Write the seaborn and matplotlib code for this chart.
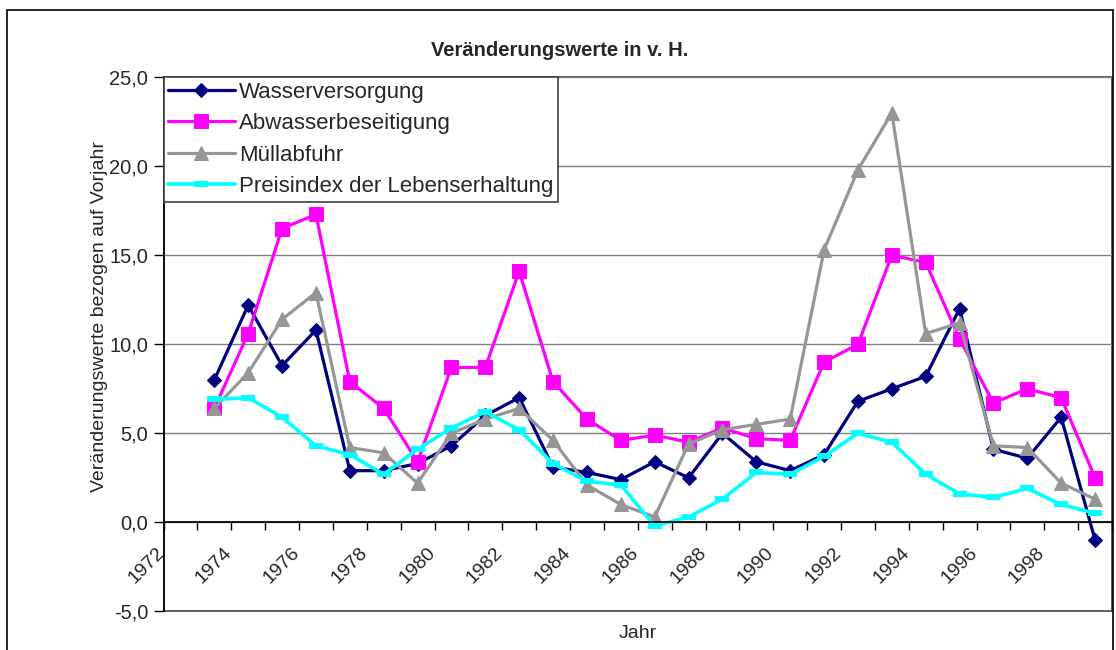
import numpy as np
import pandas as pd
import seaborn as sns
import matplotlib.pyplot as plt
from matplotlib.patches import Rectangle
from matplotlib.ticker import FuncFormatter
from matplotlib.transforms import ScaledTranslation

# data (change vs. previous year, %)
years = list(range(1973, 2000))
wasser = [8.0, 12.2, 8.8, 10.8, 2.9, 2.9, 3.3, 4.3, 6.0, 7.0, 3.1, 2.8, 2.4, 3.4,
          2.5, 5.0, 3.4, 2.9, 3.8, 6.8, 7.5, 8.2, 12.0, 4.1, 3.6, 5.9, -1.0]
abwasser = [6.4, 10.6, 16.5, 17.3, 7.9, 6.4, 3.4, 8.7, 8.7, 14.1, 7.9, 5.8, 4.6, 4.9,
            4.5, 5.3, 4.7, 4.6, 9.0, 10.0, 15.0, 14.6, 10.3, 6.7, 7.5, 7.0, 2.5]
muell = [6.4, 8.4, 11.4, 12.9, 4.2, 3.9, 2.2, 5.0, 5.8, 6.4, 4.6, 2.1, 1.0, 0.3,
         4.4, 5.2, 5.5, 5.8, 15.3, 19.8, 23.0, 10.6, 11.2, 4.3, 4.2, 2.2, 1.3]
preis = [6.9, 7.0, 5.9, 4.3, 3.8, 2.7, 4.1, 5.3, 6.2, 5.2, 3.3, 2.3, 2.1, -0.2,
         0.3, 1.3, 2.8, 2.7, 3.7, 5.0, 4.5, 2.7, 1.6, 1.4, 1.9, 1.0, 0.5]

names = ["Wasserversorgung", "Abwasserbeseitigung", "Müllabfuhr",
         "Preisindex der Lebenserhaltung"]
colors = ["#000080", "#FF00FF", "#969696", "#00FFFF"]

df = pd.DataFrame({"Jahr": years, names[0]: wasser, names[1]: abwasser,
                   names[2]: muell, names[3]: preis})

sns.set_theme(style="white")
plt.rcParams["font.family"] = ["Liberation Sans", "DejaVu Sans"]

fig = plt.figure(figsize=(11.16, 6.5), dpi=100)
ax = fig.add_axes([163.5 / 1116, 1 - 611.3 / 650, (1112 - 163.5) / 1116, (611.3 - 77.3) / 650])

styles = [dict(marker="D", markersize=7, lw=2.3),
          dict(marker="s", markersize=9.5, lw=2.3),
          dict(marker="^", markersize=10, lw=2.3),
          dict(marker="_", markersize=9.5, mew=4.3, lw=2.6)]
for name, col, st in zip(names, colors, styles):
    sns.lineplot(data=df, x="Jahr", y=name, color=col, label=name, ax=ax,
                 markeredgecolor=col, **st)

ax.set_xlim(1971.5, 1999.5)
ax.set_ylim(-5, 25)
ax.set_yticks(np.arange(-5, 26, 5))
ax.yaxis.set_major_formatter(FuncFormatter(lambda v, p: f"{v:.1f}".replace(".", ",")))
ax.yaxis.grid(True, color="#808080", lw=1)
ax.set_axisbelow(True)

ax.tick_params(axis="x", direction="out", length=6, width=1, color="black",
               labelsize=14, pad=10, bottom=True, labelrotation=45)
ax.tick_params(axis="y", direction="out", length=7, width=1, color="black",
               labelsize=14.5, pad=4, left=True)

# ticks on the category boundaries, a year label on every second one
bounds = np.arange(1971.5, 2000, 1)
xlabels = [str(int(b + 0.5)) if i % 2 == 0 and b < 1999 else "" for i, b in enumerate(bounds)]
ax.set_xticks(bounds)
ax.set_xticklabels(xlabels)

ax.spines["bottom"].set_position(("data", 0))
ax.spines["bottom"].set_color("black")
ax.spines["left"].set_color("black")
ax.spines["left"].set_linewidth(1.2)
ax.spines["top"].set_visible(False)
ax.spines["right"].set_visible(False)
ax.add_patch(Rectangle((0, 0), 1, 1, transform=ax.transAxes, fill=False,
                       edgecolor="#404040", lw=1.2, clip_on=False, zorder=0.5))
ax.set_xlabel("")
ax.set_ylabel("")

leg = ax.legend(loc="upper left", bbox_to_anchor=(0, 1), borderaxespad=0,
                frameon=True, fancybox=False, framealpha=1, edgecolor="#404040",
                fontsize=16, handlelength=3.0, handletextpad=0.2, labelspacing=0.47,
                borderpad=0.2)
leg.get_frame().set_linewidth(1.2)

fig.text(560 / 1116, 1 - 51 / 650, "Veränderungswerte in v. H.", ha="center", va="center",
         fontsize=14.5, fontweight="bold")
fig.text(100 / 1116, 1 - 316 / 650, "Veränderungswerte bezogen auf Vorjahr", ha="center",
         va="center", rotation=90, fontsize=14)
fig.text(638 / 1116, 1 - 633 / 650, "Jahr", ha="center", va="center", fontsize=14)

fig.add_artist(Rectangle((7 / 1116, -0.05), (1113 - 7) / 1116, 1.05 - 10 / 650,
                         transform=fig.transFigure, fill=False, edgecolor="black", lw=1.2))

# tick label objects exist only after a draw; right-align them then
fig.canvas.draw()
shift = ScaledTranslation(4 / 100, 0, fig.dpi_scale_trans)
for lbl in ax.get_xticklabels():
    lbl.set_ha("right")
    lbl.set_va("top")
    lbl.set_transform(lbl.get_transform() + shift)

fig.savefig("out.png", dpi=100)
